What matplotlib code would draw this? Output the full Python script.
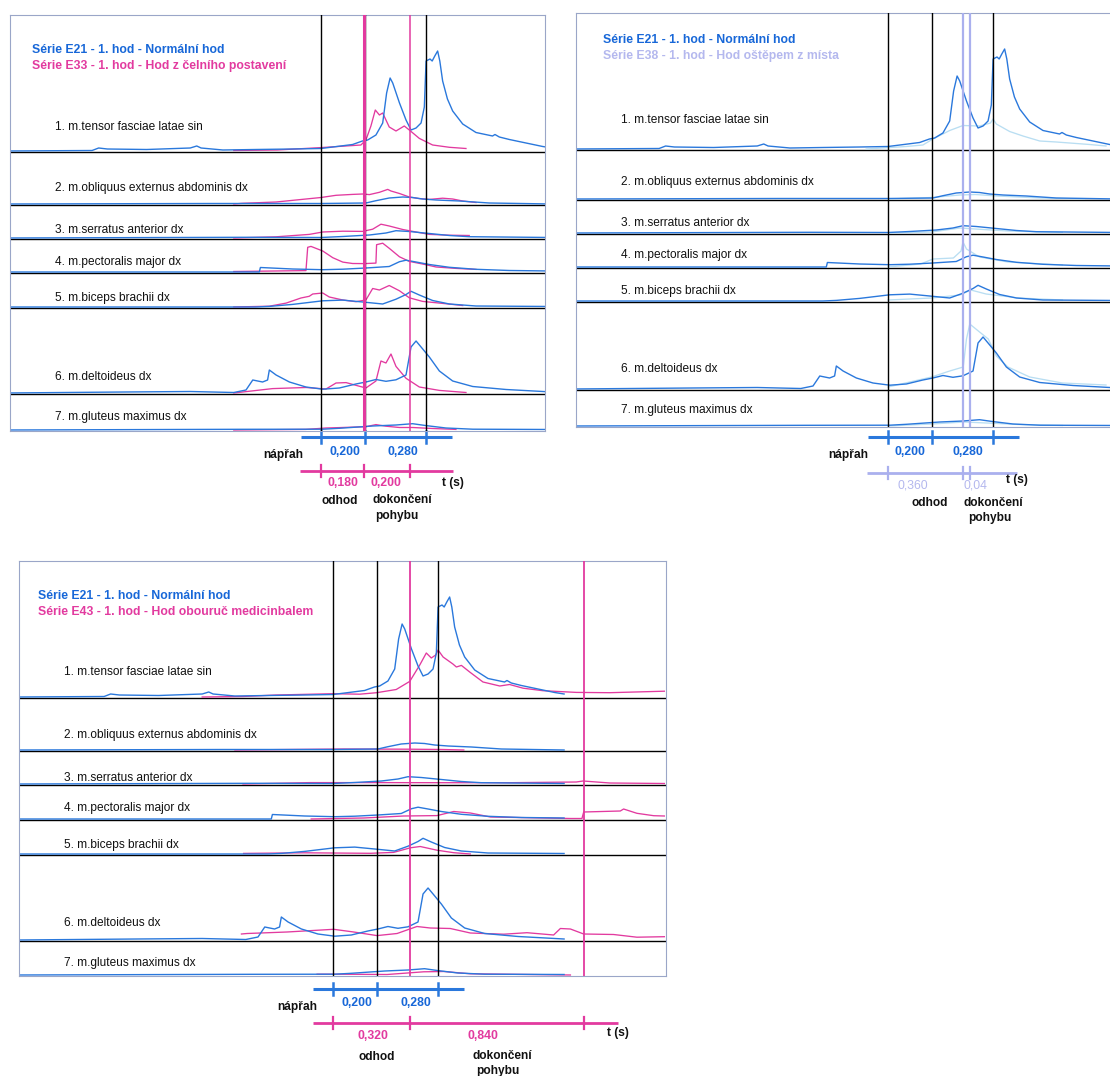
import matplotlib
matplotlib.use("Agg")
import matplotlib.pyplot as plt

W, H = 1110, 1076
PX_PER_S = 218.0

BLUE = "#2a78dc"
BLUE_TXT = "#1767d8"
MAGENTA = "#e23a9f"
LAVENDER = "#aab0ee"
PALE = "#b9def2"
BORDER = "#9aa6c8"

plt.rcParams["font.family"] = ["Liberation Sans", "DejaVu Sans"]

# ---------------- data ----------------
MUSCLES = [
    "1. m.tensor fasciae latae sin",
    "2. m.obliquus externus abdominis dx",
    "3. m.serratus anterior dx",
    "4. m.pectoralis major dx",
    "5. m.biceps brachii dx",
    "6. m.deltoideus dx",
    "7. m.gluteus maximus dx",
]

LEGEND_E21 = "Série E21 - 1. hod - Normální hod"
LEGEND_E33 = "Série E33 - 1. hod - Hod z čelního postavení"
LEGEND_E38 = "Série E38 - 1. hod - Hod oštěpem z místa"
LEGEND_E43 = "Série E43 - 1. hod - Hod obouruč medicinbalem"

# phase boundaries (s, relative to start of napřah)
EVENTS_E21 = [0.0, 0.200, 0.480]
EVENTS_E33 = [0.0, 0.195, 0.410]
EVENTS_E38 = [0.0, 0.345, 0.375]
EVENTS_E43 = [0.0, 0.355, 1.150]

DUR_E21 = ["0,200", "0,280"]
DUR_E33 = ["0,180", "0,200"]
DUR_E38 = ["0,360", "0,04"]
DUR_E43 = ["0,320", "0,840"]

# EMG envelopes: (time s, amplitude a.u.)
E21_1 = [(-1.45, 0), (-1.05, 0.5), (-1.02, 3), (-0.98, 2), (-0.80, 1.5), (-0.60, 3), (-0.57, 5),
         (-0.55, 3), (-0.45, 1), (-0.30, 1.5), (-0.13, 2), (0.0, 2.5), (0.145, 6.5), (0.19, 10),
         (0.214, 11), (0.252, 16), (0.283, 28), (0.301, 58), (0.317, 73), (0.329, 68), (0.36, 48),
         (0.39, 31), (0.413, 21), (0.436, 23), (0.459, 28), (0.474, 44), (0.482, 90), (0.50, 92),
         (0.51, 90), (0.522, 95), (0.535, 100), (0.545, 90), (0.558, 70), (0.58, 52), (0.604, 40),
         (0.65, 27), (0.711, 18.5), (0.787, 15), (0.798, 16.5), (0.818, 14), (0.864, 11.5),
         (1.017, 4.5), (1.06, 3)]
E21_2 = [(-1.45, 0), (-0.5, 0.5), (0.0, 0.5), (0.206, 1), (0.252, 3.3), (0.313, 6), (0.375, 7),
         (0.42, 6.5), (0.466, 5), (0.528, 4), (0.635, 3), (0.772, 1), (1.06, 0)]
E21_3 = [(-1.45, 0), (-0.36, 0.7), (0.0, 0.5), (0.1, 1.5), (0.222, 3), (0.298, 5), (0.344, 7.3),
         (0.405, 6.5), (0.497, 4.5), (0.589, 2.5), (0.68, 1.3), (1.06, 0.5)]
E21_4 = [(-1.45, 0), (-0.283, 0), (-0.278, 4.5), (-0.13, 3), (0.008, 2.3), (0.1, 2.8), (0.206, 4),
         (0.313, 5.5), (0.36, 10.3), (0.39, 11.8), (0.436, 10), (0.497, 7.5), (0.589, 4.7),
         (0.711, 2.7), (0.864, 1.5), (1.06, 1)]
E21_5 = [(-1.45, 0), (-0.30, 0), (-0.237, 0.6), (-0.13, 2.6), (0.008, 6.2), (0.1, 6.9), (0.191, 5),
         (0.283, 3), (0.344, 7.8), (0.39, 12.5), (0.413, 15.7), (0.451, 12), (0.512, 6.5),
         (0.589, 3), (0.711, 1), (1.06, 0.5)]
E21_6 = [(-1.45, 0), (-0.9, 1), (-0.6, 1.5), (-0.4, 0.5), (-0.344, 3), (-0.313, 13), (-0.268, 11),
         (-0.245, 13), (-0.237, 23), (-0.206, 18), (-0.145, 11), (-0.069, 6), (0.008, 3.8),
         (0.084, 5), (0.16, 9), (0.206, 11), (0.252, 13.5), (0.298, 11.7), (0.344, 13.2),
         (0.39, 18), (0.413, 46), (0.436, 52), (0.459, 46), (0.497, 36), (0.543, 22), (0.604, 12),
         (0.696, 6.5), (0.849, 3.5), (1.06, 1)]
E21_7 = [(-1.45, 0), (-0.375, 0.7), (0.008, 0.8), (0.084, 1.7), (0.237, 4), (0.344, 5), (0.42, 6.3),
         (0.482, 4.4), (0.573, 2), (0.696, 0.8), (1.06, 0.5)]

E33_1 = [(-0.40, 0.5), (-0.2, 1), (0.008, 3.5), (0.183, 6), (0.206, 11), (0.229, 25), (0.249, 41),
         (0.268, 36), (0.283, 38), (0.313, 24), (0.344, 20), (0.382, 25), (0.405, 21),
         (0.451, 12.6), (0.512, 6), (0.589, 3.7), (0.665, 2.5)]
E33_2 = [(-0.40, 0), (-0.36, 0.7), (-0.206, 2), (0.0, 6.5), (0.069, 8.7), (0.145, 9.6), (0.191, 10),
         (0.222, 9.4), (0.268, 11.7), (0.306, 14.6), (0.321, 13), (0.36, 10.5), (0.405, 7),
         (0.451, 5.4), (0.497, 4.6), (0.558, 5.8), (0.604, 5), (0.65, 3), (0.711, 1.5)]
E33_3 = [(-0.40, 0), (-0.206, 1.2), (-0.054, 3.6), (0.008, 6), (0.1, 6.8), (0.191, 6.6), (0.237, 8.8),
         (0.275, 13.8), (0.313, 12), (0.375, 8.5), (0.436, 6), (0.497, 3.6), (0.589, 2.8),
         (0.68, 2.5)]
E33_4 = [(-0.40, 0.5), (-0.069, 1.4), (-0.061, 24.7), (-0.046, 25.6), (0.008, 21), (0.054, 14.3),
         (0.1, 9.9), (0.145, 8.5), (0.199, 8.4), (0.252, 8.9), (0.255, 27.3), (0.283, 28.8),
         (0.313, 23.7), (0.36, 15.2), (0.405, 10.6), (0.466, 8), (0.528, 5), (0.619, 3.6),
         (0.711, 2.6)]
E33_5 = [(-0.40, 0), (-0.237, 0.8), (-0.16, 3.9), (-0.092, 9), (-0.054, 10.7), (-0.038, 13),
         (0.008, 14), (0.038, 10), (0.1, 7), (0.16, 5.3), (0.206, 7), (0.237, 18.5), (0.268, 17),
         (0.313, 21.5), (0.36, 16.2), (0.405, 9.2), (0.466, 5.6), (0.558, 3.6), (0.65, 1.5)]
E33_6 = [(-0.40, 0), (-0.222, 4.4), (-0.069, 5.5), (0.023, 4), (0.069, 10), (0.115, 10.4),
         (0.16, 7.7), (0.206, 5), (0.252, 12), (0.275, 32), (0.298, 30), (0.321, 39),
         (0.344, 26.6), (0.39, 14.7), (0.451, 6), (0.543, 2.6), (0.665, 0.5)]
E33_7 = [(-0.40, 0), (-0.069, 0.6), (0.023, 2), (0.084, 2.4), (0.206, 3.3), (0.252, 5.4),
         (0.298, 3.8), (0.36, 2.5), (0.42, 2.5), (0.512, 1.5), (0.619, 0.6)]

E38_1 = [(-0.1, 0), (0.084, 2.5), (0.16, 4), (0.206, 10), (0.283, 18.5), (0.344, 23.5), (0.42, 23),
         (0.47, 26), (0.482, 30), (0.497, 25), (0.558, 17.5), (0.619, 13), (0.696, 8), (0.772, 7),
         (0.925, 4.5), (1.0, 3)]
E38_2 = [(0.0, 0), (0.2, 1.5), (0.33, 4), (0.4, 4.5), (0.5, 3), (0.7, 1), (0.9, 0)]
E38_3 = [(0.0, 0), (0.2, 1), (0.33, 5), (0.4, 4), (0.55, 2), (0.8, 0.5)]
E38_4 = [(0.0, 0), (0.15, 3), (0.206, 8), (0.3, 9), (0.335, 16), (0.344, 25), (0.36, 18),
         (0.42, 10), (0.55, 5), (0.8, 2)]
E38_5 = [(0.0, 1), (0.2, 3), (0.33, 6), (0.38, 11), (0.45, 7), (0.6, 3), (0.8, 1)]
E38_6 = [(0.0, 2), (0.2, 12), (0.283, 18), (0.345, 22), (0.36, 50), (0.375, 65), (0.42, 57),
         (0.46, 50), (0.497, 33), (0.55, 22), (0.65, 12), (0.8, 6), (1.0, 4)]
E38_7 = [(0.0, 0), (0.2, 2), (0.35, 4), (0.45, 3), (0.6, 1.5), (0.8, 0.5)]

E43_1 = [(-0.60, 0), (-0.413, 0.5), (-0.26, 2), (0.0, 3.3), (0.122, 2.8), (0.2, 4.3), (0.29, 7.5),
         (0.352, 15.6), (0.398, 32), (0.428, 44), (0.451, 39), (0.471, 42), (0.482, 47),
         (0.505, 40), (0.55, 33), (0.566, 30), (0.589, 31.6), (0.627, 25), (0.688, 15),
         (0.765, 11), (0.81, 12.5), (0.872, 8.8), (0.963, 6.3), (1.116, 4.6), (1.269, 4.3),
         (1.52, 5.8)]
E43_2 = [(-0.45, 0), (0.046, 1), (0.352, 0.8), (0.505, 0.5), (0.6, 0)]
E43_3 = [(-0.413, 0), (-0.107, 1.4), (0.2, 1.4), (0.505, 1.3), (0.81, 1.3), (1.116, 2), (1.147, 3),
         (1.27, 1), (1.52, 0.5)]
E43_4 = [(-0.1, 0), (0.141, 1), (0.324, 3), (0.477, 3.4), (0.554, 7.5), (0.63, 6), (0.722, 2),
         (1.089, 0.5), (1.142, 0.5), (1.15, 7), (1.318, 8), (1.333, 10), (1.394, 5.7),
         (1.471, 3.3), (1.52, 3)]
E43_5 = [(-0.41, 0.6), (-0.135, 1.2), (0.171, 0.7), (0.278, 1.6), (0.355, 6.2), (0.4, 7.5),
         (0.477, 3.8), (0.554, 1.3), (0.63, 0)]
E43_6 = [(-0.42, 6), (-0.394, 6.5), (-0.211, 8), (0.003, 10.7), (0.095, 8), (0.202, 4.4),
         (0.294, 6.5), (0.385, 13.5), (0.446, 12), (0.538, 11.5), (0.63, 7), (0.783, 5.8),
         (0.89, 7.3), (1.012, 5), (1.043, 11.5), (1.089, 11), (1.15, 6), (1.287, 5.5),
         (1.394, 2.8), (1.52, 3.3)]
E43_7 = [(-0.073, 0.8), (0.018, 0.8), (0.248, 0.5), (0.416, 3.2), (0.508, 3.5), (0.63, 1.2),
         (1.089, 0)]

E21 = [E21_1, E21_2, E21_3, E21_4, E21_5, E21_6, E21_7]
E33 = [E33_1, E33_2, E33_3, E33_4, E33_5, E33_6, E33_7]
E38 = [E38_1, E38_2, E38_3, E38_4, E38_5, E38_6, E38_7]
E43 = [E43_1, E43_2, E43_3, E43_4, E43_5, E43_6, E43_7]

# ---------------- layout (figure pixels) ----------------
PANELS = [
    dict(box=(10, 15, 545, 431), t0=321, seps=[152, 205, 239, 273, 308, 394],
         label_x=55, label_y=[127, 188, 230, 262, 298, 377, 417], legend_xy=(32, 50),
         other=E33, events=EVENTS_E33, dur=DUR_E33, name=LEGEND_E33,
         line_color=MAGENTA, trace_color=MAGENTA, text_color=MAGENTA, line_w=[2.2, 1.1],
         tl_y=(437, 471), span=(-0.096, 0.605),
         dur_t=([0.11, 0.376], [0.10, 0.30]), dur_y=(452, 483),
         words=[("nápřah", 283, 455), ("t (s)", 453, 483), ("odhod", 340, 501),
                ("dokončení", 402, 500), ("pohybu", 397, 516)]),
    dict(box=(576, 13, 1113, 427), t0=888, seps=[150, 200, 234, 268, 302, 390],
         label_x=621, label_y=[120, 182, 223, 255, 291, 369, 410], legend_xy=(603, 40),
         other=E38, events=EVENTS_E38, dur=DUR_E38, name=LEGEND_E38,
         line_color=LAVENDER, trace_color=PALE, text_color="#b4b8ee", line_w=[1.6, 1.6],
         tl_y=(437, 473), span=(-0.096, 0.59),
         dur_t=([0.10, 0.367], [0.115, 0.399]), dur_y=(452, 486),
         words=[("nápřah", 848, 455), ("t (s)", 1017, 480), ("odhod", 930, 503),
                ("dokončení", 993, 503), ("pohybu", 990, 518)]),
    dict(box=(19, 561, 666, 976), t0=333, seps=[698, 751, 785, 820, 855, 941],
         label_x=64, label_y=[672, 735, 778, 808, 845, 923, 963], legend_xy=(38, 596),
         other=E43, events=EVENTS_E43, dur=DUR_E43, name=LEGEND_E43,
         line_color=MAGENTA, trace_color=MAGENTA, text_color=MAGENTA, line_w=[1.3, 1.3],
         tl_y=(989, 1023), span=(-0.092, 1.307),
         dur_t=([0.11, 0.38], [0.183, 0.688]), dur_y=(1003, 1036),
         words=[("nápřah", 297, 1007), ("t (s)", 618, 1033), ("odhod", 377, 1057),
                ("dokončení", 502, 1056), ("pohybu", 498, 1071)]),
]


def draw_traces(ax, series, bases, color, lw):
    for pts, base in zip(series, bases):
        ts = [p[0] for p in pts]
        ys = [base - 1 - p[1] for p in pts]
        ax.plot(ts, ys, color=color, lw=lw, zorder=2, solid_joinstyle="round")


def draw_panel(fig, ov, p):
    left, top, right, bottom = p["box"]
    ax = fig.add_axes([left / W, 1 - bottom / H, (right - left) / W, (bottom - top) / H])
    ax.set_xlim((left - p["t0"]) / PX_PER_S, (right - p["t0"]) / PX_PER_S)
    ax.set_ylim(bottom, top)
    ax.set_xticks([])
    ax.set_yticks([])
    ax.patch.set_alpha(0)
    for s in ax.spines.values():
        s.set_color(BORDER)
        s.set_linewidth(0.8)

    bases = p["seps"] + [bottom]
    for y in p["seps"]:
        ax.axhline(y, color="black", lw=1.0, zorder=1)

    draw_traces(ax, p["other"], bases, p["trace_color"], 0.95)
    draw_traces(ax, E21, bases, BLUE, 1.0)

    for te in EVENTS_E21:
        ax.axvline(te, color="black", lw=1.0, zorder=3)
    for te, lw in zip(p["events"][1:], p["line_w"]):
        ax.axvline(te, color=p["line_color"], lw=lw, zorder=3)

    # time lines under the panel
    y1, y2 = p["tl_y"]
    ax.plot([-0.09, 0.60], [y1, y1], color=BLUE, lw=2.2, clip_on=False, solid_capstyle="butt")
    for te in EVENTS_E21:
        ax.plot([te, te], [y1 - 6, y1 + 6], color=BLUE, lw=1.8, clip_on=False)
    ax.plot(p["span"], [y2, y2], color=p["line_color"], lw=2.0, clip_on=False,
            solid_capstyle="butt")
    for te in p["events"]:
        ax.plot([te, te], [y2 - 6, y2 + 6], color=p["line_color"], lw=1.6, clip_on=False)

    bt, ot = p["dur_t"]
    by, oy = p["dur_y"]
    for t, s in zip(bt, DUR_E21):
        ax.text(t, by, s, color=BLUE_TXT, fontsize=8.8, fontweight="bold", ha="center",
                va="center", clip_on=False)
    weight = "normal" if p["other"] is E38 else "bold"
    for t, s in zip(ot, p["dur"]):
        ax.text(t, oy, s, color=p["text_color"], fontsize=8.8, fontweight=weight, ha="center",
                va="center", clip_on=False)

    # free text in figure pixels
    lx, ly = p["legend_xy"]
    ov.text(lx, ly, LEGEND_E21, color=BLUE_TXT, fontsize=8.8, fontweight="bold", va="center")
    ov.text(lx, ly + 16, p["name"], color=p["text_color"], fontsize=8.8, fontweight="bold",
            va="center")
    for name, y in zip(MUSCLES, p["label_y"]):
        ov.text(p["label_x"], y, name, fontsize=8.6, va="center", color="#111111")
    for word, x, y in p["words"]:
        ov.text(x, y, word, fontsize=8.6, fontweight="bold", ha="center", va="center",
                color="#111111")


fig = plt.figure(figsize=(W / 100, H / 100), dpi=100)
fig.patch.set_facecolor("white")
ov = fig.add_axes([0, 0, 1, 1], zorder=5)
ov.set_xlim(0, W)
ov.set_ylim(H, 0)
ov.axis("off")
ov.patch.set_alpha(0)

for panel in PANELS:
    draw_panel(fig, ov, panel)

fig.savefig("out.png", dpi=100, facecolor="white")
